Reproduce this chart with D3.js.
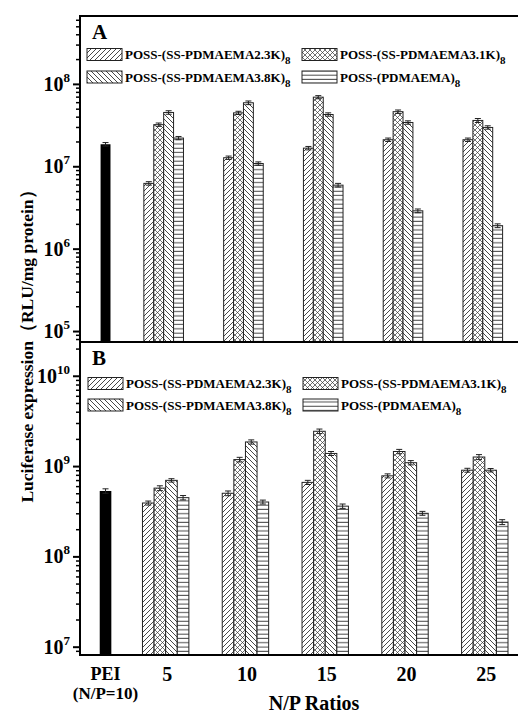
<!DOCTYPE html>
<html>
<head>
<meta charset="utf-8">
<script src="https://cdn.jsdelivr.net/npm/d3@7"></script>
<style>
body { margin: 0; background: #fff; }
text { font-family: "Liberation Serif", "Times New Roman", serif; font-weight: bold; fill: #000; }
</style>
</head>
<body>
<script>
// N/P ratios on the x axis, PEI control sits in its own slot left of them
var ratios = [5, 10, 15, 20, 25];
var peiSlot = 1.2;
var seriesNames = ["POSS-(SS-PDMAEMA2.3K)", "POSS-(SS-PDMAEMA3.1K)", "POSS-(SS-PDMAEMA3.8K)", "POSS-(PDMAEMA)"];
var seriesSub = "8";

// panel A (RLU/mg protein)
var peiA = 1.85e7, peiErrA = 0.9e6;
var ss23A = [6.2e6, 1.27e7, 1.66e7, 2.1e7, 2.1e7];
var ss31A = [3.2e7, 4.45e7, 6.9e7, 4.6e7, 3.6e7];
var ss38A = [4.5e7, 5.9e7, 4.25e7, 3.4e7, 2.96e7];
var pdA = [2.2e7, 1.08e7, 5.9e6, 2.88e6, 1.9e6];
var ss23ErrA = [0.3e6, 0.6e6, 0.8e6, 1.0e6, 1.0e6];
var ss31ErrA = [1.5e6, 2.0e6, 3.0e6, 2.2e6, 2.0e6];
var ss38ErrA = [2.2e6, 3.0e6, 2.0e6, 1.6e6, 1.4e6];
var pdErrA = [1.0e6, 0.5e6, 0.3e6, 0.15e6, 0.1e6];

// panel B
var peiB = 5.3e8, peiErrB = 0.3e8;
var ss23B = [3.9e8, 5.0e8, 6.6e8, 7.8e8, 9.0e8];
var ss31B = [5.7e8, 1.18e9, 2.43e9, 1.45e9, 1.26e9];
var ss38B = [6.95e8, 1.85e9, 1.38e9, 1.09e9, 9.0e8];
var pdB = [4.47e8, 4.0e8, 3.6e8, 3.0e8, 2.4e8];
var ss23ErrB = [0.2e8, 0.3e8, 0.35e8, 0.4e8, 0.45e8];
var ss31ErrB = [0.35e8, 0.7e8, 1.4e8, 0.8e8, 0.8e8];
var ss38ErrB = [0.3e8, 1.0e8, 0.7e8, 0.6e8, 0.4e8];
var pdErrB = [0.25e8, 0.2e8, 0.2e8, 0.15e8, 0.15e8];

var width = 518, height = 713;
var left = 80, right = 522;

var svg = d3.select("body").append("svg")
	.attr("width", width)
	.attr("height", height);

var x = d3.scaleLinear().domain([-0.4, 27.3]).range([left, right]);

// fill patterns for the four series
var defs = svg.append("defs");
var pats = [
	{id: "p23", size: 5, w: 0.9, d: "M-1,1 l2,-2 M0,5 l5,-5 M4,6 l2,-2"},
	{id: "p31", size: 5, w: 0.7, d: "M-1,1 l2,-2 M0,5 l5,-5 M4,6 l2,-2 M-1,4 l2,2 M0,0 l5,5 M4,-1 l2,2"},
	{id: "p38", size: 5, w: 0.9, d: "M-1,4 l2,2 M0,0 l5,5 M4,-1 l2,2"},
	{id: "ppd", size: 4.3, w: 0.9, d: "M0,2 h5"}
];
pats.forEach(function(p) {
	var pat = defs.append("pattern")
		.attr("id", p.id)
		.attr("patternUnits", "userSpaceOnUse")
		.attr("width", p.size)
		.attr("height", p.size);
	pat.append("rect").attr("width", p.size).attr("height", p.size).attr("fill", "#fff");
	pat.append("path").attr("d", p.d).attr("stroke", "#333").attr("stroke-width", p.w);
});
var fills = ["url(#p23)", "url(#p31)", "url(#p38)", "url(#ppd)"];

function drawPanel(opt) {
	var y = d3.scaleLog().domain(opt.domain).range([opt.bottom, opt.top]);
	var g = svg.append("g");

	// y ticks: minor 2..9 and major decades
	var majors = [], minors = [];
	for (var e = Math.floor(Math.log10(opt.domain[0])); e <= Math.ceil(Math.log10(opt.domain[1])); e++) {
		var v = Math.pow(10, e);
		if (v >= opt.domain[0] && v <= opt.domain[1]) majors.push(v);
		for (var m = 2; m <= 9; m++) {
			if (m * v >= opt.domain[0] && m * v <= opt.domain[1]) minors.push(m * v);
		}
	}
	var minAx = g.append("g")
		.attr("transform", "translate(" + left + ",0)")
		.call(d3.axisLeft(y).tickValues(minors).tickSize(4).tickSizeOuter(0).tickFormat(""));
	var majAx = g.append("g")
		.attr("transform", "translate(" + left + ",0)")
		.call(d3.axisLeft(y).tickValues(majors).tickSize(7).tickSizeOuter(0).tickFormat(""));
	minAx.select(".domain").remove();
	majAx.select(".domain").remove();
	minAx.selectAll("line").attr("stroke-width", 1.5);
	majAx.selectAll("line").attr("stroke-width", 2);

	var lab = g.selectAll(".ylab")
		.data(majors)
		.enter().append("text")
			.attr("class", "ylab")
			.attr("x", left - 10)
			.attr("y", function(d) { return y(d) + 7; })
			.style("text-anchor", "end")
			.style("font-size", "20px");
	lab.append("tspan").text("10");
	lab.append("tspan")
		.attr("dy", -9)
		.style("font-size", "13px")
		.text(function(d) { return Math.round(Math.log10(d)); });

	// PEI bar
	g.append("rect")
		.attr("x", x(peiSlot) - opt.bw / 2)
		.attr("y", y(opt.pei))
		.attr("width", opt.bw)
		.attr("height", opt.bottom - y(opt.pei))
		.attr("fill", "#000");
	errorBar(g, x(peiSlot), y(opt.pei - opt.peiErr), y(opt.pei + opt.peiErr));

	var inner = d3.scaleBand().domain(d3.range(4)).range([0, 4 * opt.bw]);

	opt.series.forEach(function(vals, si) {
		ratios.forEach(function(r, ri) {
			var x0 = x(r) + opt.shift - 2 * opt.bw + inner(si);
			g.append("rect")
				.attr("x", x0)
				.attr("y", y(vals[ri]))
				.attr("width", opt.bw)
				.attr("height", opt.bottom - y(vals[ri]))
				.attr("fill", fills[si])
				.attr("stroke", "#222")
				.attr("stroke-width", 1);
			var err = opt.errs[si][ri];
			errorBar(g, x0 + opt.bw / 2, y(vals[ri] - err), y(vals[ri] + err));
		});
	});

	// panel letter
	g.append("text")
		.attr("x", 92)
		.attr("y", opt.top + 23)
		.style("font-size", "21px")
		.text(opt.letter);

	// legend, 2 x 2
	var legPos = [[0, 0], [1, 0], [0, 1], [1, 1]];
	var colX = opt.legCols, rowY = opt.legRows;
	seriesNames.forEach(function(name, i) {
		var lx = colX[legPos[i][0]], ly = rowY[legPos[i][1]];
		g.append("rect")
			.attr("x", lx)
			.attr("y", ly - 6)
			.attr("width", 35)
			.attr("height", 12)
			.attr("fill", fills[i])
			.attr("stroke", "#222")
			.attr("stroke-width", 1);
		var t = g.append("text")
			.attr("x", lx + 38)
			.attr("y", ly + 4.5)
			.style("font-size", "13px");
		t.append("tspan").text(name);
		t.append("tspan").attr("dy", 5).style("font-size", "11px").text(seriesSub);
	});

	return y;
}

function errorBar(g, cx, y0, y1) {
	g.append("line").attr("x1", cx).attr("x2", cx).attr("y1", y0).attr("y2", y1)
		.attr("stroke", "#222").attr("stroke-width", 1);
	[y0, y1].forEach(function(yy) {
		g.append("line").attr("x1", cx - 3).attr("x2", cx + 3).attr("y1", yy).attr("y2", yy)
			.attr("stroke", "#222").attr("stroke-width", 1);
	});
}

drawPanel({
	letter: "A", top: 16, bottom: 342,
	domain: [Math.pow(10, 4.867), Math.pow(10, 8.824)],
	bw: 9.9, shift: -2.5,
	pei: peiA, peiErr: peiErrA,
	series: [ss23A, ss31A, ss38A, pdA],
	errs: [ss23ErrA, ss31ErrA, ss38ErrA, pdErrA],
	legCols: [87, 302], legRows: [54.5, 77]
});

drawPanel({
	letter: "B", top: 342, bottom: 655,
	domain: [Math.pow(10, 6.908), Math.pow(10, 10.374)],
	bw: 11.6, shift: -0.5,
	pei: peiB, peiErr: peiErrB,
	series: [ss23B, ss31B, ss38B, pdB],
	errs: [ss23ErrB, ss31ErrB, ss38ErrB, pdErrB],
	legCols: [88, 303], legRows: [383.5, 405]
});

// frame lines
[16, 342, 655].forEach(function(yy) {
	svg.append("line").attr("x1", left - 1).attr("x2", right).attr("y1", yy).attr("y2", yy)
		.attr("stroke", "#000").attr("stroke-width", 2);
});
svg.append("line").attr("x1", left).attr("x2", left).attr("y1", 15).attr("y2", 656)
	.attr("stroke", "#000").attr("stroke-width", 2);

// x labels
var xl = svg.append("g");
xl.selectAll(".xlab")
	.data(ratios)
	.enter().append("text")
		.attr("class", "xlab")
		.attr("x", function(d) { return x(d) + 1; })
		.attr("y", 681)
		.style("text-anchor", "middle")
		.style("font-size", "20px")
		.text(function(d) { return d; });
xl.append("text")
	.attr("x", x(peiSlot))
	.attr("y", 680)
	.style("text-anchor", "middle")
	.style("font-size", "18px")
	.text("PEI");
xl.append("text")
	.attr("x", x(peiSlot))
	.attr("y", 699)
	.style("text-anchor", "middle")
	.style("font-size", "17px")
	.text("(N/P=10)");

svg.append("text")
	.attr("x", 314)
	.attr("y", 710)
	.style("text-anchor", "middle")
	.style("font-size", "20px")
	.text("N/P Ratios");

svg.append("text")
	.attr("transform", "translate(33,342) rotate(-90)")
	.style("text-anchor", "middle")
	.style("font-size", "17.5px")
	.text("Luciferase expression（RLU/mg protein）");
</script>
</body>
</html>
